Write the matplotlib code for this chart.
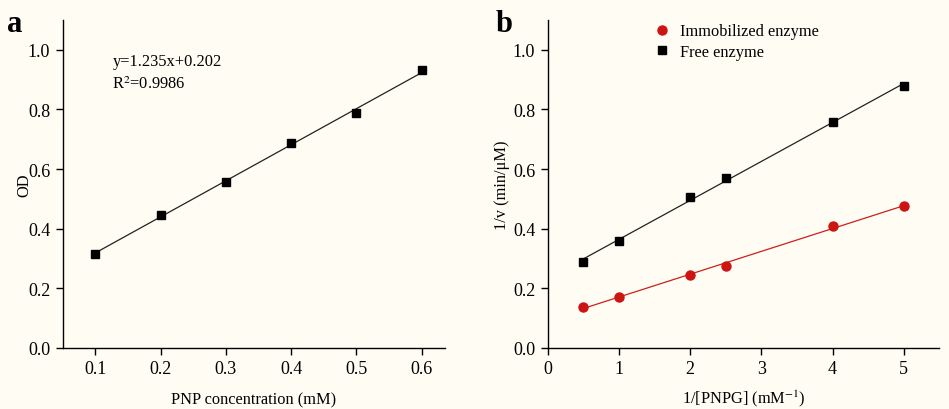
import numpy as np
import matplotlib
matplotlib.use("Agg")
import matplotlib.pyplot as plt

# Panel a data
pnp_conc = [0.1, 0.2, 0.3, 0.4, 0.5, 0.6]
od_values = [0.316, 0.446, 0.557, 0.689, 0.787, 0.931]

# Panel b data
inv_s = [0.5, 1, 2, 2.5, 4, 5]
free_inv_v = [0.289, 0.359, 0.508, 0.569, 0.758, 0.878]
immob_inv_v = [0.139, 0.170, 0.245, 0.275, 0.408, 0.477]

a_xticks = [0.1, 0.2, 0.3, 0.4, 0.5, 0.6]
b_xticks = [0, 1, 2, 3, 4, 5]
yticks = [0.0, 0.2, 0.4, 0.6, 0.8, 1.0]

bg = "#fefcf3"
plt.rcParams['font.family'] = ['Liberation Serif', 'DejaVu Serif']
plt.rcParams['mathtext.fontset'] = 'stix'

fig = plt.figure(figsize=(9.49, 4.10), dpi=100, facecolor=bg)
ax1 = fig.add_axes([0.0661, 0.1488, 0.4028, 0.80])
ax2 = fig.add_axes([0.5771, 0.1488, 0.4127, 0.80])

FS = 13
LFS = 11.8

for ax in (ax1, ax2):
    ax.set_facecolor(bg)
    ax.spines['top'].set_visible(False)
    ax.spines['right'].set_visible(False)
    ax.spines['left'].set_linewidth(1.0)
    ax.spines['bottom'].set_linewidth(1.0)
    ax.tick_params(direction='out', length=5, width=1.0, labelsize=FS, pad=4)
    ax.set_ylim(0, 1.1)
    ax.set_yticks(yticks)
    ax.set_yticklabels([f"{v:.1f}" for v in yticks])

# Panel a
ax1.set_xlim(0.05, 0.636)
ax1.set_xticks(a_xticks)
ax1.set_xticklabels([f"{v:.1f}" for v in a_xticks])
k, b = np.polyfit(pnp_conc, od_values, 1)
xs = np.array([pnp_conc[0], pnp_conc[-1]])
ax1.plot(xs, k * xs + b, color='#222222', lw=0.9)
ax1.plot(pnp_conc, od_values, 's', color='black', ms=5.5)
ax1.set_xlabel("PNP concentration (mM)", fontsize=LFS, labelpad=10)
ax1.set_ylabel("OD", fontsize=LFS, labelpad=-3)
ax1.text(0.126, 0.963, "y=1.235x+0.202", fontsize=LFS, va='center')
ax1.text(0.126, 0.888, "R$^2$=0.9986", fontsize=LFS, va='center')

# Panel b
ax2.set_xlim(0, 5.5)
ax2.set_xticks(b_xticks)
ax2.set_xticklabels([str(v) for v in b_xticks])
xs = np.array([inv_s[0], inv_s[-1]])
k, b = np.polyfit(inv_s, free_inv_v, 1)
ax2.plot(xs, k * xs + b, color='#222222', lw=0.9)
k, b = np.polyfit(inv_s, immob_inv_v, 1)
ax2.plot(xs, k * xs + b, color='#cc1f1a', lw=0.9)
ax2.plot(inv_s, immob_inv_v, 'o', color='#cc1512', ms=6.5, label='Immobilized enzyme')
ax2.plot(inv_s, free_inv_v, 's', color='black', ms=5.5, label='Free enzyme')
ax2.set_xlabel("1/[PNPG] (mM$^{-1}$)", fontsize=LFS, labelpad=7)
ax2.set_ylabel("1/v (min/μM)", fontsize=LFS, labelpad=2)
ax2.legend(loc='upper left', bbox_to_anchor=(0.255, 1.01), frameon=False,
           fontsize=LFS, handlelength=1.0, handletextpad=0.6, labelspacing=0.3,
           borderaxespad=0)

fig.text(0.016, 0.94, "a", fontsize=22, fontweight='bold', va='center', ha='center')
fig.text(0.531, 0.94, "b", fontsize=22, fontweight='bold', va='center', ha='center')

fig.savefig("out.png", dpi=100, facecolor=bg)
